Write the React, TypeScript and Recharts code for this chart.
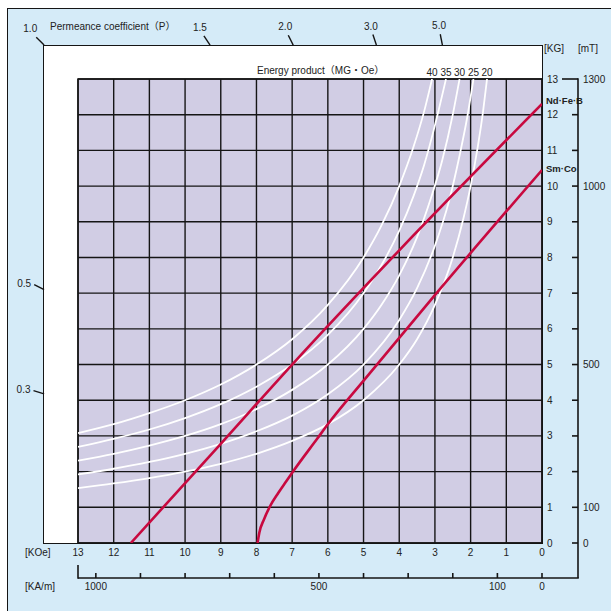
import React from "react";
import {
  LineChart, Line, XAxis, YAxis, CartesianGrid,
  ReferenceLine, ReferenceDot, ReferenceArea,
} from "recharts";

const FONT = '"Liberation Sans", Arial, "Noto Sans CJK JP", sans-serif';
const RED = "#c8093f";
const PURPLE = "#d1cde4";
const BLUE = "#d5ebf8";
const INK = "#151515";

// axis ticks
const koeTicks = [0, 1, 2, 3, 4, 5, 6, 7, 8, 9, 10, 11, 12, 13];
const kgTicks = [0, 1, 2, 3, 4, 5, 6, 7, 8, 9, 10, 11, 12, 13];
const mtTicks = [0, 100, 200, 300, 400, 500, 600, 700, 800, 900, 1000, 1100, 1200, 1300];
const mtLabels = [0, 100, 500, 1000, 1300];
const kamTicks = [0, 100, 200, 300, 400, 500, 600, 700, 800, 900, 1000];
const kamLabels = [0, 100, 500, 1000];

// energy product curves, [H kOe, B kG]
const ep20: [number, number][] = [
  [13, 1.54], [12, 1.67], [11, 1.82], [10, 2.0], [9, 2.22], [8, 2.5], [7, 2.86], [6, 3.33],
  [5, 4.0], [4, 5.0], [3.5, 5.71], [3, 6.67], [2.5, 8.0], [2.2, 9.1], [2, 10.0], [1.8, 11.1],
  [1.65, 12.1], [1.54, 13],
];
const ep25: [number, number][] = [
  [13, 1.92], [12, 2.08], [11, 2.27], [10, 2.5], [9, 2.78], [8, 3.13], [7, 3.57], [6, 4.17],
  [5, 5.0], [4, 6.25], [3.5, 7.14], [3, 8.33], [2.6, 9.6], [2.3, 10.9], [2.1, 11.9], [1.92, 13],
];
const ep30: [number, number][] = [
  [13, 2.31], [12, 2.5], [11, 2.73], [10, 3.0], [9, 3.33], [8, 3.75], [7, 4.29], [6, 5.0],
  [5, 6.0], [4.5, 6.67], [4, 7.5], [3.5, 8.57], [3.1, 9.7], [2.8, 10.7], [2.5, 12.0], [2.31, 13],
];
const ep35: [number, number][] = [
  [13, 2.69], [12, 2.92], [11, 3.18], [10, 3.5], [9, 3.89], [8, 4.38], [7, 5.0], [6, 5.83],
  [5, 7.0], [4.5, 7.78], [4, 8.75], [3.6, 9.72], [3.3, 10.6], [3.0, 11.7], [2.69, 13],
];
const ep40: [number, number][] = [
  [13, 3.08], [12, 3.33], [11, 3.64], [10, 4.0], [9, 4.44], [8, 5.0], [7, 5.71], [6, 6.67],
  [5, 8.0], [4.5, 8.89], [4, 10.0], [3.6, 11.1], [3.3, 12.1], [3.08, 13],
];
const energyCurves = [
  { mgoe: "40", pts: ep40 },
  { mgoe: "35", pts: ep35 },
  { mgoe: "30", pts: ep30 },
  { mgoe: "25", pts: ep25 },
  { mgoe: "20", pts: ep20 },
];

// demagnetization curves
const ndfeb: [number, number][] = [[11.52, 0], [9.0, 2.78], [7.0, 5.0], [4.0, 8.2], [0, 12.3]];
const smco: [number, number][] = [
  [7.97, 0], [7.92, 0.29], [7.79, 0.66], [7.62, 1.03], [7.39, 1.4], [7.17, 1.72], [6.97, 2.01],
  [6.3, 2.92], [5.99, 3.34], [4.98, 4.57], [2.99, 6.96], [0, 10.45],
];

// permeance coefficient ticks: value and where it meets the panel edge (kOe on top, kG on left)
const PANEL_EDGE = 13.95;
const permeanceTop: [number, number][] = [[1.0, 13.95], [1.5, 9.3], [2.0, 6.97], [3.0, 4.64], [5.0, 2.79]];
const permeanceLeft: [number, number][] = [[0.5, 7.1], [0.3, 4.18]];

const toPts = (arr: [number, number][]) => arr.map(([h, b]) => ({ h, b }));
const kamData = kamTicks.map((v) => ({ kam: v }));

function permTick(p: number, eh: number, eb: number) {
  const d = 0.31 / Math.sqrt(1 + p * p);
  return { eh, eb, oh: eh + d, ob: eb + p * d };
}

function MtTick(props: any) {
  const { x, y, payload } = props;
  const v = payload.value;
  const len = v === 1300 ? 16 : 6;
  return (
    <g>
      <line x1={x - len} x2={x} y1={y} y2={y} stroke={INK} strokeWidth={1.6} />
      {mtLabels.includes(v) && (
        <text x={x + 5} y={y} dy="0.35em" fontSize={10} fill="#222" fontFamily={FONT}>{v}</text>
      )}
    </g>
  );
}

function KamTick(props: any) {
  const { x, y, payload } = props;
  const v = payload.value;
  return (
    <g>
      <line x1={x} x2={x} y1={y - 5} y2={y} stroke={INK} strokeWidth={1.6} />
      {kamLabels.includes(v) && (
        <text x={x} y={y + 5} dy="0.71em" textAnchor="middle" fontSize={10} fill="#222" fontFamily={FONT}>{v}</text>
      )}
    </g>
  );
}

const tickStyle = { fontSize: 10, fill: "#222", fontFamily: FONT };

export default function App() {
  return (
    <div style={{ position: "absolute", left: 0, top: 0, width: 611, height: 611, overflow: "hidden", background: "#fff" }}>
      <div style={{
        position: "absolute", left: 7, top: 8, width: 604, height: 603, background: BLUE,
        borderTop: `1.5px solid ${INK}`, borderLeft: `1.5px solid ${INK}`, boxSizing: "border-box",
      }} />
      <div style={{
        position: "absolute", left: 43, top: 45, width: 500, height: 499, background: "#fff",
        border: `1.5px solid ${INK}`, boxSizing: "border-box",
      }} />
      <LineChart
        width={611}
        height={611}
        margin={{ top: 79, right: 0, bottom: 0, left: 78 }}
        style={{ position: "absolute", left: 0, top: 0 }}
      >
        <CartesianGrid fill={PURPLE} fillOpacity={1} stroke={INK} strokeWidth={1.4} />
        <XAxis
          type="number" dataKey="h" domain={[0, 13]} reversed ticks={koeTicks} interval={0}
          height={35} tickSize={0} tickMargin={6} axisLine={false} tick={tickStyle} allowDataOverflow
        />
        <XAxis
          xAxisId="kam" type="number" dataKey="kam" domain={[0, 1040]} reversed ticks={kamTicks} interval={0}
          height={33} tickSize={0} tickMargin={0} axisLine={false} tick={(p: any) => <KamTick {...p} />}
          allowDataOverflow
        />
        <YAxis
          orientation="right" type="number" domain={[0, 13]} ticks={kgTicks} interval={0}
          width={36} tickSize={0} tickMargin={5} axisLine={false} tick={tickStyle} allowDataOverflow
        />
        <YAxis
          yAxisId="mT" orientation="right" type="number" domain={[0, 1300]} ticks={mtTicks} interval={0}
          width={33} tickSize={0} tickMargin={0} axisLine={false} tick={(p: any) => <MtTick {...p} />}
          allowDataOverflow
        />
        <ReferenceArea x1={13} x2={0} y1={0} y2={13} fill="none" stroke={INK} strokeWidth={1.5} ifOverflow="visible" />

        {/* carries the kA/m scale, draws nothing */}
        <Line
          xAxisId="kam" data={kamData} dataKey="none" stroke="none" dot={false}
          activeDot={false} legendType="none" isAnimationActive={false}
        />

        {energyCurves.map((c) => (
          <Line
            key={c.mgoe} data={toPts(c.pts)} dataKey="b" type="monotone" stroke="#ffffff"
            strokeWidth={1.8} dot={false} activeDot={false} isAnimationActive={false}
          />
        ))}
        <Line
          data={toPts(ndfeb)} dataKey="b" type="monotone" stroke={RED} strokeWidth={2.6}
          dot={false} activeDot={false} isAnimationActive={false}
        />
        <Line
          data={toPts(smco)} dataKey="b" type="monotone" stroke={RED} strokeWidth={2.6}
          dot={false} activeDot={false} isAnimationActive={false}
        />

        {energyCurves.map((c) => {
          const [h, b] = c.pts[c.pts.length - 1];
          return (
            <ReferenceDot
              key={"l" + c.mgoe} x={h} y={b} r={0} ifOverflow="visible"
              shape={(p: any) => (
                <text x={p.cx} y={p.cy - 3.5} textAnchor="middle" fontSize={10} fill="#222" fontFamily={FONT}>{c.mgoe}</text>
              )}
            />
          );
        })}
        <ReferenceDot
          x={ndfeb[ndfeb.length - 1][0]} y={ndfeb[ndfeb.length - 1][1]} r={0} ifOverflow="visible"
          shape={(p: any) => (
            <text x={p.cx + 4} y={p.cy} fontSize={9.5} fontWeight="bold" fill="#222" fontFamily={FONT}>Nd·Fe·B</text>
          )}
        />
        <ReferenceDot
          x={smco[smco.length - 1][0]} y={smco[smco.length - 1][1]} r={0} ifOverflow="visible"
          shape={(p: any) => (
            <text x={p.cx + 4} y={p.cy + 2} fontSize={9.5} fontWeight="bold" fill="#222" fontFamily={FONT}>Sm·Co</text>
          )}
        />

        {permeanceTop.map(([p, eh]) => {
          const t = permTick(p, eh, PANEL_EDGE);
          return (
            <ReferenceLine
              key={"pt" + p} segment={[{ x: t.eh, y: t.eb }, { x: t.oh, y: t.ob }]}
              stroke={INK} strokeWidth={1.4} ifOverflow="visible"
            />
          );
        })}
        {permeanceTop.map(([p, eh]) => {
          const t = permTick(p, eh, PANEL_EDGE);
          return (
            <ReferenceDot
              key={"ptl" + p} x={t.oh} y={t.ob} r={0} ifOverflow="visible"
              shape={(s: any) => (
                <text x={s.cx - 6 / p} y={s.cy - 5} textAnchor="middle" fontSize={10} fill="#222" fontFamily={FONT}>{p.toFixed(1)}</text>
              )}
            />
          );
        })}
        {permeanceLeft.map(([p, eb]) => {
          const t = permTick(p, PANEL_EDGE, eb);
          return (
            <ReferenceLine
              key={"pl" + p} segment={[{ x: t.eh, y: t.eb }, { x: t.oh, y: t.ob }]}
              stroke={INK} strokeWidth={1.4} ifOverflow="visible"
            />
          );
        })}
        {permeanceLeft.map(([p, eb]) => {
          const t = permTick(p, PANEL_EDGE, eb);
          return (
            <ReferenceDot
              key={"pll" + p} x={t.oh} y={t.ob} r={0} ifOverflow="visible"
              shape={(s: any) => (
                <text x={s.cx - 3} y={s.cy + 2.5} textAnchor="end" fontSize={10} fill="#222" fontFamily={FONT}>{p.toFixed(1)}</text>
              )}
            />
          );
        })}
      </LineChart>
      <svg width={611} height={611} style={{ position: "absolute", left: 0, top: 0, pointerEvents: "none" }}>
        <g stroke={INK} strokeWidth={1.6}>
          <line x1={78} y1={578} x2={578.8} y2={578} />
          <line x1={578} y1={78.2} x2={578} y2={578} />
          <line x1={78} y1={565} x2={78} y2={578.8} />
        </g>
        <g fontSize={10} fill="#222" fontFamily={FONT}>
          <text x={50} y={29.5}>Permeance coefficient（P）</text>
          <text x={257} y={73.5}>Energy product（MG・Oe）</text>
          <text x={544} y={51.5}>[KG]</text>
          <text x={578} y={51.5}>[mT]</text>
          <text x={25} y={555.5}>[KOe]</text>
          <text x={25} y={589.5}>[KA/m]</text>
        </g>
      </svg>
    </div>
  );
}
